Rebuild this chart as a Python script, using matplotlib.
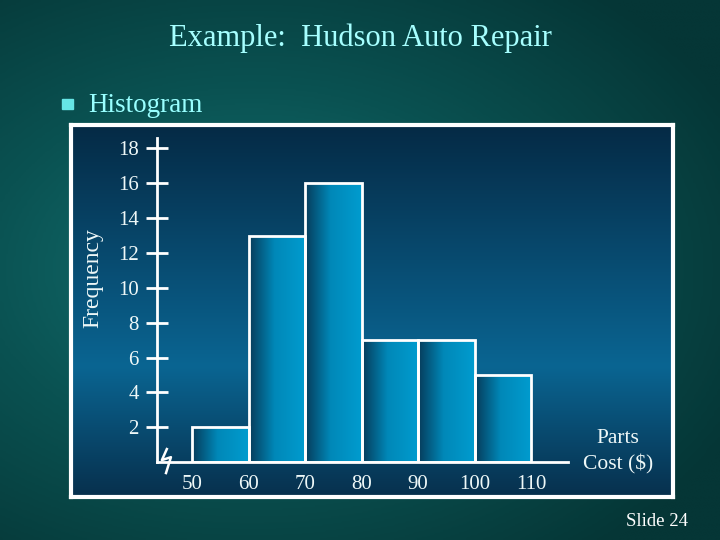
import numpy as np
import matplotlib.pyplot as plt
from matplotlib.colors import LinearSegmentedColormap
from matplotlib.patches import Rectangle

plt.rcParams['font.family'] = ['Liberation Serif', 'DejaVu Serif']

# data: parts cost classes and frequencies
bin_left = [50, 60, 70, 80, 90, 100]
bin_width = 10
freq = [2, 13, 16, 7, 7, 5]
x_ticks = [50, 60, 70, 80, 90, 100, 110]
y_ticks = [2, 4, 6, 8, 10, 12, 14, 16, 18]

text_col = '#eef8f8'

fig = plt.figure(figsize=(7.2, 5.4), dpi=100)

# slide background (radial teal gradient)
bg = fig.add_axes([0, 0, 1, 1])
bg.axis('off')
yy, xx = np.mgrid[0:1:200j, 0:1:270j]
r = np.sqrt((xx - 0.35) ** 2 + ((yy - 0.5) / 0.9) ** 2)
bg_cmap = LinearSegmentedColormap.from_list('bg', ['#157474', '#0a5252', '#053636'])
bg.imshow(np.clip(r / 0.75, 0, 1), cmap=bg_cmap, aspect='auto',
          extent=[0, 1, 0, 1], origin='lower')
bg.set_xlim(0, 1)
bg.set_ylim(0, 1)

fig.text(0.5, 1 - 38 / 540, 'Example:  Hudson Auto Repair', ha='center', va='center',
         fontsize=22, color='#a6ffff')
fig.add_artist(Rectangle((62 / 720, 1 - 109 / 540), 11 / 720, 10 / 540,
                         color='#66e6e6', transform=fig.transFigure))
fig.text(88 / 720, 1 - 105 / 540, 'Histogram', ha='left', va='center',
         fontsize=19.5, color='#99ffff')
fig.text(688 / 720, 1 - 522 / 540, 'Slide 24', ha='right', va='center',
         fontsize=13.5, color='white')

# chart panel
panel = fig.add_axes([0.0986, 0.0796, 0.836, 0.689])
panel_cmap = LinearSegmentedColormap.from_list(
    'panel', [(0, '#07304d'), (0.35, '#0a6592'), (1, '#052a45')])
panel.imshow(np.linspace(0, 1, 256).reshape(-1, 1), cmap=panel_cmap,
             aspect='auto', extent=[0, 1, 0, 1], origin='lower')
panel.set_xticks([])
panel.set_yticks([])
for s in panel.spines.values():
    s.set_color('white')
    s.set_linewidth(3)

# histogram
ax = fig.add_axes([0.218, 0.1444, 0.571, 0.6])
ax.patch.set_alpha(0)
bars = ax.bar(bin_left, freq, width=bin_width, align='edge', facecolor='none',
              edgecolor='white', linewidth=2, zorder=3)
bar_cmap = LinearSegmentedColormap.from_list(
    'bar', [(0, '#073b5a'), (0.45, '#0088b8'), (1, '#009ccf')])
hgrad = np.linspace(0, 1, 256).reshape(1, -1)
for b in bars:
    x0, y0 = b.get_x(), b.get_y()
    im = ax.imshow(hgrad, cmap=bar_cmap, aspect='auto', zorder=2,
                   extent=[x0, x0 + b.get_width(), y0, y0 + b.get_height()])
    im.set_clip_path(b)

ax.set_xlim(43.8, 116.5)
ax.set_ylim(0, 18.6)
for side in ['top', 'right']:
    ax.spines[side].set_visible(False)
for side in ['left', 'bottom']:
    ax.spines[side].set_color('white')
    ax.spines[side].set_linewidth(2)

ax.set_yticks(y_ticks)
ax.tick_params(axis='y', direction='inout', length=16, width=2, color='white',
               labelcolor=text_col, labelsize=15, pad=5)
ax.set_xticks(x_ticks)
ax.tick_params(axis='x', length=0, labelcolor=text_col, labelsize=15, pad=9)

# axis break mark
ax.plot([0.024, 0.012, 0.034, 0.022], [0.040, 0.006, 0.015, -0.034],
        transform=ax.transAxes, color='white', lw=1.8, clip_on=False, zorder=4)

fig.text(93 / 720, 1 - 278 / 540, 'Frequency', rotation=90, ha='center',
         va='center', fontsize=17, color=text_col)
fig.text(618 / 720, 1 - 452 / 540, 'Parts\nCost ($)', ha='center', va='center',
         fontsize=15.5, color=text_col, linespacing=1.45)

fig.savefig('out.png', dpi=100)
